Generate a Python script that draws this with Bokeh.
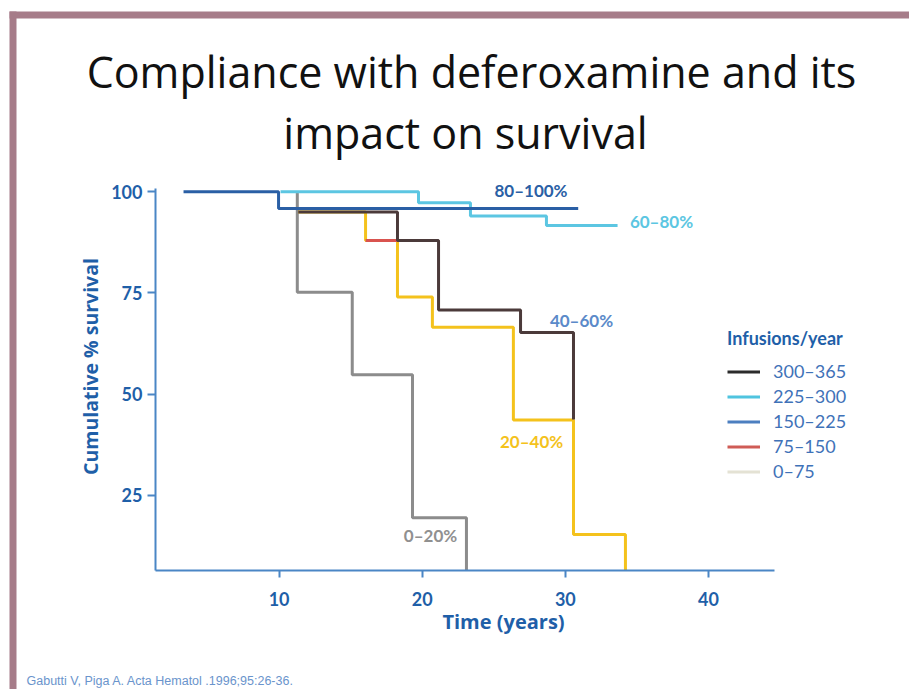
import math
import numpy as np
from bokeh.plotting import figure
from bokeh.models import Label, Legend, LegendItem, BoxAnnotation
from bokeh.embed import file_html
from bokeh.resources import INLINE

# ---- data ----
# Kaplan-Meier steps: times (years) and cumulative % survival after each time
t_0_20 = [11.27, 11.27, 15.11, 19.32, 23.09]
s_0_20 = [100.0, 75.2, 54.8, 19.4, 0.0]

t_20_40 = [11.34, 16.04, 18.27, 20.71, 26.37, 30.57, 34.2]
s_20_40 = [95.0, 88.0, 74.0, 66.5, 43.6, 15.3, 0.0]

t_red = [16.04, 18.27]
s_red = [88.0, 88.0]

t_40_60 = [11.34, 18.27, 21.14, 26.87, 30.57]
s_40_60 = [95.0, 88.0, 70.8, 65.2, 43.7]

t_60_80 = [10.1, 19.74, 23.37, 28.68, 33.65]
s_60_80 = [100.0, 97.3, 94.0, 91.7, 91.7]

t_80_100 = [3.32, 9.96, 30.9]
s_80_100 = [100.0, 95.9, 95.9]

x_ticks = [10, 20, 30, 40]
y_ticks = [25, 50, 75, 100]

curve_labels = ["80\u2013100%", "60\u201380%", "40\u201360%", "20\u201340%", "0\u201320%"]
legend_labels = ["300\u2013365", "225\u2013300", "150\u2013225", "75\u2013150", "0\u201375"]

# ---- layout / styles ----
W, H = 909, 689
X_AX = (1.36, 44.62)     # extent of the drawn x axis
Y_AX = (6.37, 100.83)    # extent of the drawn y axis
BLUE_TXT = "#1f5fa8"
AXIS_C = "#4a86c5"
C_DARKBLUE = "#2a5fa5"
C_CYAN = "#5cc6e2"
C_BLACK = "#4b3a3a"
C_YELLOW = "#f4c21c"
C_GRAY = "#8c8c8c"
C_RED = "#d9534f"
FONT = "Lato"
FONT2 = "Open Sans"

p = figure(width=W, height=H, x_range=(-9.47, 54.05), y_range=(-23.06, 147.32),
           output_backend="svg", toolbar_location=None,
           min_border_left=0, min_border_right=0, min_border_top=0, min_border_bottom=0)
p.outline_line_color = None
p.xgrid.visible = False
p.ygrid.visible = False
p.background_fill_color = "white"
p.border_fill_color = "white"

for ax in (p.xaxis[0], p.yaxis[0]):
    ax.axis_line_color = AXIS_C
    ax.axis_line_width = 2
    ax.major_tick_line_color = AXIS_C
    ax.major_tick_line_width = 2
    ax.major_tick_in = 0
    ax.minor_tick_line_color = None
    ax.major_label_text_font = FONT
    ax.major_label_text_font_style = "bold"
    ax.major_label_text_font_size = "18px"
    ax.major_label_text_color = BLUE_TXT

p.xaxis.fixed_location = Y_AX[0]
p.yaxis.fixed_location = X_AX[0]
p.xaxis.bounds = X_AX
p.yaxis.bounds = Y_AX
p.xaxis.ticker = x_ticks
p.yaxis.ticker = y_ticks
p.xaxis.major_tick_out = 7
p.yaxis.major_tick_out = 8
p.xaxis.major_label_standoff = 15
p.yaxis.major_label_standoff = 5

def clamp(s):
    return np.maximum(np.asarray(s, dtype=float), Y_AX[0])

LW = 3
p.step(t_0_20, clamp(s_0_20), mode="after", line_color=C_GRAY, line_width=LW)
p.step(t_20_40, clamp(s_20_40), mode="after", line_color=C_YELLOW, line_width=LW)
p.step(t_red, clamp(s_red), mode="after", line_color=C_RED, line_width=LW)
p.step(t_40_60, clamp(s_40_60), mode="after", line_color=C_BLACK, line_width=LW)
p.step(t_60_80, clamp(s_60_80), mode="after", line_color=C_CYAN, line_width=LW)
p.step(t_80_100, clamp(s_80_100), mode="after", line_color=C_DARKBLUE, line_width=LW)

# curve annotations (data coordinates)
lab_pos = [(27.6, 100.3), (36.72, 92.67), (31.13, 68.19), (27.64, 38.27), (20.58, 15.02)]
lab_col = [C_DARKBLUE, C_CYAN, "#5b8ac9", C_YELLOW, "#909090"]
for txt, (x, y), c in zip(curve_labels, lab_pos, lab_col):
    p.add_layout(Label(x=x, y=y, text=txt, text_align="center", text_baseline="middle",
                       text_font=FONT, text_font_style="bold", text_font_size="17px",
                       text_color=c))

# legend with its own swatches (renderers hold no visible points)
leg_cols = ["#2b2b2b", "#4fc4df", "#4c7fc0", "#cf5c56", "#e4e2d4"]
items = []
for lab, c in zip(legend_labels, leg_cols):
    r = p.line(x=[np.nan], y=[np.nan], line_color=c, line_width=3)
    items.append(LegendItem(label=lab, renderers=[r]))
legend = Legend(items=items, location=(727, 207), title="Infusions/year",
                title_text_font=FONT, title_text_font_style="bold", title_text_font_size="18px",
                title_text_color=BLUE_TXT, title_standoff=11,
                label_text_font=FONT, label_text_font_size="18px", label_text_color="#3f72b8",
                glyph_width=33, glyph_height=21, label_height=21, label_standoff=13, spacing=3,
                padding=0, margin=0, border_line_color=None, background_fill_alpha=0)
p.add_layout(legend)

# texts placed in screen pixels (from the frame's bottom-left corner)
def slabel(x, y, text, **kw):
    p.add_layout(Label(x=x, y=H - y, x_units="screen", y_units="screen", text=text, **kw))

slabel(90, 366, "Cumulative % survival", angle=math.pi / 2, text_align="center",
       text_baseline="middle", text_font=FONT2, text_font_style="bold", text_font_size="19.5px",
       text_color=BLUE_TXT)
slabel(503, 621, "Time (years)", text_align="center", text_baseline="middle",
       text_font=FONT2, text_font_style="bold", text_font_size="20px", text_color=BLUE_TXT)
slabel(471, 71, "Compliance with deferoxamine and its", text_align="center",
       text_baseline="alphabetic", text_font=FONT2, text_font_size="43px", text_color="#111111")
slabel(465, 132, "impact on survival", text_align="center",
       text_baseline="alphabetic", text_font=FONT2, text_font_size="43px", text_color="#111111")
slabel(26, 680, "Gabutti V, Piga A.  Acta Hematol .1996;95:26-36.", text_align="left",
       text_baseline="middle", text_font="Liberation Sans", text_font_size="12.5px",
       text_color="#6a94cc")

# slide frame (decorative bars)
BAR = "#a67c89"
def sbox(x0, x1, y0, y1):
    p.add_layout(BoxAnnotation(left=x0, right=x1, top=H - y0, bottom=H - y1,
                               left_units="screen", right_units="screen",
                               top_units="screen", bottom_units="screen",
                               fill_color=BAR, fill_alpha=1, line_color=None, level="underlay"))
sbox(9, W, 11, 18)
sbox(9, 16, 11, H)

open("out.html", "w").write(file_html(p, INLINE))
